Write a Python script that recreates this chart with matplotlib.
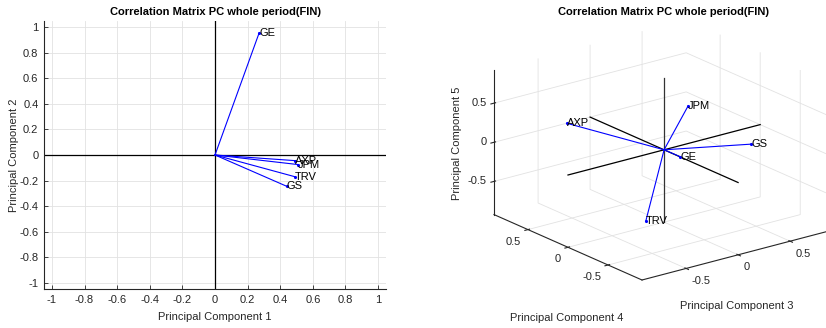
import numpy as np
import matplotlib
matplotlib.use('Agg')
import matplotlib.pyplot as plt
from mpl_toolkits.mplot3d import proj3d

# ---------------- data ----------------
labels = ['AXP', 'GE', 'GS', 'JPM', 'TRV']
pc1 = [0.49, 0.27, 0.44, 0.51, 0.49]
pc2 = [-0.044, 0.953, -0.245, -0.075, -0.17]
pc3 = [-0.31, 0.11, 0.84, -0.07, -0.50]
pc4 = [0.81, -0.06, 0.00, -0.39, -0.42]
pc5 = [0.08, -0.10, -0.22, 0.76, -0.55]
ticks2d = [-1, -0.8, -0.6, -0.4, -0.2, 0, 0.2, 0.4, 0.6, 0.8, 1]
ticks3d = [-0.5, 0, 0.5]
title = 'Correlation Matrix PC whole period(FIN)'
xlabel2d, ylabel2d = 'Principal Component 1', 'Principal Component 2'
xlabel3d, ylabel3d, zlabel3d = 'Principal Component 3', 'Principal Component 4', 'Principal Component 5'

# ---------------- style ----------------
plt.rcParams.update({
    'font.family': ['Liberation Sans', 'DejaVu Sans'],
    'font.size': 8,
    'axes.unicode_minus': False,
    'grid.color': '#e2e2e2',
    'grid.linewidth': 0.6,
})
TXT = '#262626'
W, H = 826, 328
fig = plt.figure(figsize=(W / 100, H / 100), dpi=100)

def fmt(v):
    return '%g' % v

# ---------------- 2D biplot ----------------
ax = fig.add_axes([44 / W, 1 - 289 / H, 342 / W, 268 / H])
lim2 = 1.1 * max(np.abs(np.r_[pc1, pc2]))
ax.set_xlim(-lim2, lim2)
ax.set_ylim(-lim2, lim2)
ax.set_xticks(ticks2d)
ax.set_xticklabels([fmt(t) for t in ticks2d])
ax.set_yticks(ticks2d)
ax.set_yticklabels([fmt(t) for t in ticks2d])
ax.grid(True)
ax.set_axisbelow(True)
for s in ['top', 'right']:
    ax.spines[s].set_visible(False)
for s in ['left', 'bottom']:
    ax.spines[s].set_color(TXT)
    ax.spines[s].set_linewidth(0.8)
ax.tick_params(direction='in', length=3, width=0.6, colors=TXT, labelsize=8, pad=4)
ax.plot([-lim2, lim2], [0, 0], color='k', lw=0.9)
ax.plot([0, 0], [-lim2, lim2], color='k', lw=0.9)
for x, y, s in zip(pc1, pc2, labels):
    ax.plot([0, x], [0, y], color='b', lw=0.8)
    ax.plot([x], [y], marker='.', ms=2.5, color='b')
    ax.text(x, y, s, ha='left', va='center', fontsize=8, color='k')
ax.set_xlabel(xlabel2d, fontsize=8, color=TXT, labelpad=5)
ax.set_ylabel(ylabel2d, fontsize=8, color=TXT, labelpad=0)
fig.text(215.5 / W, 1 - 12 / H, title, ha='center', va='center', fontsize=8, fontweight='bold')

# ---------------- 3D biplot ----------------
ax3 = fig.add_axes([0.5, 0.0, 0.45, 0.45 * W / H], projection='3d')
ax3.patch.set_visible(False)
ax3.set_proj_type('ortho')
ax3.view_init(elev=19.9, azim=-127.6)
ax3.set_box_aspect((1, 1, 0.634))
L3 = 1.1 * max(np.abs(np.r_[pc3, pc4, pc5]))
ax3.set_xlim(-L3, L3)
ax3.set_ylim(-L3, L3)
ax3.set_zlim(-L3, L3)
for axis in (ax3.xaxis, ax3.yaxis, ax3.zaxis):
    axis.set_pane_color((1, 1, 1, 0))
    axis.pane.set_edgecolor('#e2e2e2')
    axis.line.set_color(TXT)
    axis.line.set_linewidth(0.8)
ax3.set_xticks(ticks3d)
ax3.set_xticklabels([fmt(t) for t in ticks3d])
ax3.set_yticks(ticks3d)
ax3.set_yticklabels([fmt(t) for t in ticks3d])
ax3.set_zticks(ticks3d)
ax3.set_zticklabels([fmt(t) for t in ticks3d])
ax3.tick_params(colors=TXT, labelsize=8)
ax3.tick_params(axis='x', pad=-3)
ax3.tick_params(axis='y', pad=-3)
ax3.tick_params(axis='z', pad=-5)
for t in ax3.get_xticklabels():
    t.set_ha('left')
for t in ax3.get_yticklabels():
    t.set_ha('right')
for t in ax3.get_zticklabels():
    t.set_ha('right')
    t.set_va('center')

ax3.plot([-L3, L3], [0, 0], [0, 0], color='k', lw=0.9)
ax3.plot([0, 0], [-L3, L3], [0, 0], color='k', lw=0.9)
ax3.plot([0, 0], [0, 0], [-L3, L3], color='#333333', lw=0.9)
for x, y, z, s in zip(pc3, pc4, pc5, labels):
    ax3.plot([0, x], [0, y], [0, z], color='b', lw=0.8)
    ax3.plot([x], [y], [z], marker='.', ms=2.5, color='b')
    ax3.text(x, y, z, s, ha='left', va='center', fontsize=8, color='k')

# fit 3D box onto the target layout (front corner and left corner)
fig.canvas.draw()
def to_px(x, y, z):
    xs, ys, _ = proj3d.proj_transform(x, y, z, ax3.get_proj())
    return ax3.transData.transform((xs, ys))
pA = to_px(-L3, -L3, -L3)
pB = to_px(-L3, L3, -L3)
tA = (642.0, H - 280.0)
tB = (494.0, H - 215.0)
f = (tA[0] - tB[0]) / (pA[0] - pB[0])
bb = ax3.bbox
nx0 = tA[0] - (pA[0] - bb.x0) * f
ny0 = tA[1] - (pA[1] - bb.y0) * f
ax3.set_position([nx0 / W, ny0 / H, bb.width * f / W, bb.height * f / H])

fig.text(663 / W, 1 - 12 / H, title, ha='center', va='center', fontsize=8, fontweight='bold')
fig.text(737 / W, 1 - 306 / H, xlabel3d, ha='center', va='center', fontsize=8, color=TXT)
fig.text(567 / W, 1 - 318 / H, ylabel3d, ha='center', va='center', fontsize=8, color=TXT)
fig.text(457 / W, 1 - 143 / H, zlabel3d, ha='center', va='center', fontsize=8, color=TXT, rotation=90)

fig.savefig('out.png', dpi=100)
